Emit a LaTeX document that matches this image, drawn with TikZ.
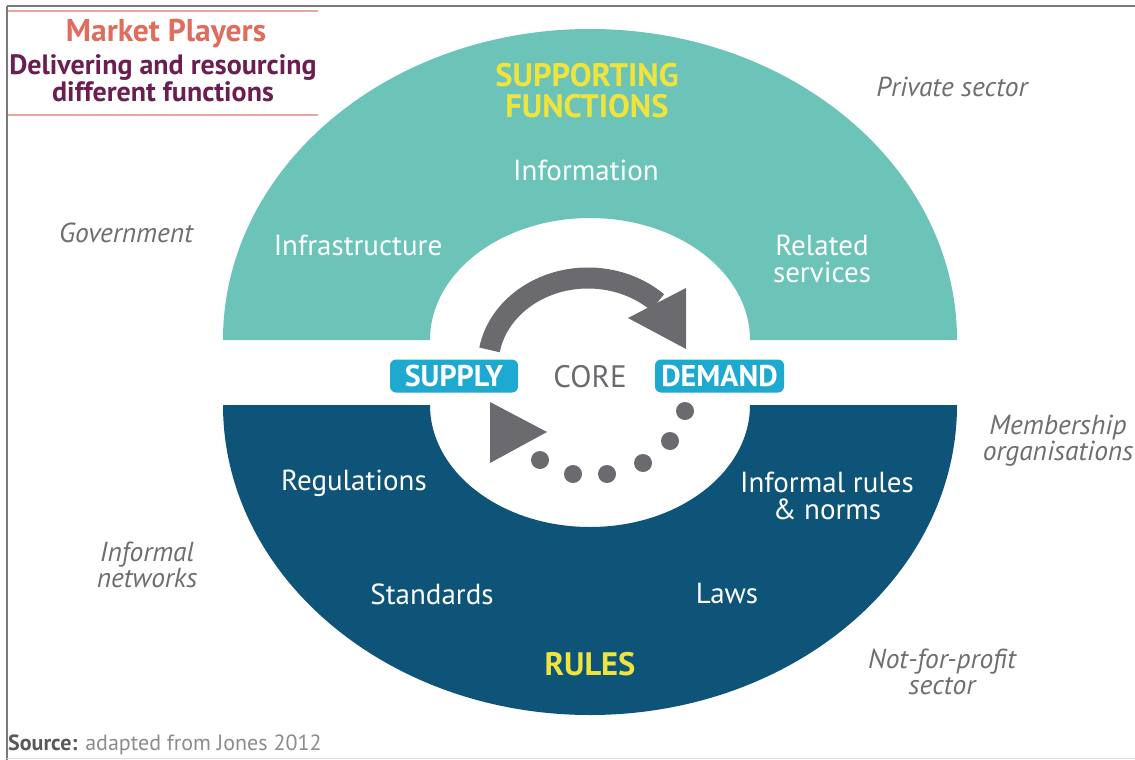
\documentclass[tikz,border=0pt]{standalone}
\usepackage{fontspec}
\setmainfont{PT Sans}
\definecolor{tealband}{HTML}{6CC4B9}
\definecolor{darkband}{HTML}{0E5479}
\definecolor{headyellow}{HTML}{F0E43C}
\definecolor{pillcyan}{HTML}{1DA9D0}
\definecolor{arrowgray}{HTML}{6B6B6F}
\definecolor{italgray}{HTML}{6E6E6E}
\definecolor{titlered}{HTML}{E06C5C}
\definecolor{titlepurple}{HTML}{6B1E4F}
\definecolor{titleline}{HTML}{E4A8A0}
\definecolor{framegray}{HTML}{7A7A7A}
\begin{document}
\begin{tikzpicture}[x=1pt,y=-1pt,
  lbl/.style={text=white, font=\fontsize{29}{27}\selectfont, align=center, inner sep=0},
  ital/.style={text=italgray, font=\fontsize{27.5}{26}\selectfont\itshape, align=center, inner sep=0},
  head/.style={text=headyellow, font=\fontsize{32.5}{31}\selectfont\bfseries, align=center, inner sep=0},
  pill/.style={fill=pillcyan, text=white, rounded corners=6pt, minimum width=128, minimum height=33,
               font=\fontsize{30}{30}\selectfont\bfseries, inner sep=0},
  dot/.style={circle, fill=arrowgray, minimum size=18, inner sep=0}]
\useasboundingbox (0,0) rectangle (1135,760);
\fill[white] (0,0) rectangle (1135,760);
% frame
\draw[framegray, line width=2] (7,6) -- (1135,6);
\draw[framegray, line width=2] (7,6) -- (7,760);
\draw[black!12, line width=1] (7,758) -- (1135,758);
% title
\draw[titleline, line width=1.5] (8,11) -- (318,11);
\draw[titleline, line width=1.5] (8,115) -- (318,115);
\node[text=titlered, font=\fontsize{31.5}{30}\selectfont\bfseries, inner sep=0] (t1) at (166,34) {Market Players};
\node[text=titlepurple, font=\fontsize{28}{25}\selectfont\bfseries, align=center, inner sep=0] (t2) at (163,78) {Delivering and resourcing\\different functions};
% bands
\fill[tealband] (223,340) arc[start angle=180, end angle=360, x radius=367, y radius=311]
   -- (750,340) arc[start angle=360, end angle=180, x radius=160, y radius=122] -- cycle;
\fill[darkband] (223,405) arc[start angle=180, end angle=0, x radius=367, y radius=310]
   -- (750,405) arc[start angle=0, end angle=180, x radius=160, y radius=122] -- cycle;
% top arrow
\coordinate (arcS) at ([shift={(190:100 and 87)}]588,365);
\draw[arrowgray, line width=21] (arcS) arc[start angle=190, end angle=314, x radius=100, y radius=87];
\fill[arrowgray] (628,318) -- (686,288) -- (686,349) -- cycle;
% bottom dotted arrow
\fill[arrowgray] (490,402) -- (490,463) -- (547,432) -- cycle;
\node[dot] (d1) at (685,411) {};
\node[dot] (d2) at (670,441) {};
\node[dot] (d3) at (643,463) {};
\node[dot] (d4) at (607,474) {};
\node[dot] (d5) at (573,474) {};
\node[dot] (d6) at (540,460) {};
% core
\node[pill] (supply) at (454,376) {SUPPLY};
\node[pill, minimum width=129] (demand) at (719.5,376) {DEMAND};
\node[text=arrowgray, font=\fontsize{31}{30}\selectfont, inner sep=0] (core) at (590,377) {CORE};
% headings
\node[head] (sf) at (587,91) {SUPPORTING\\FUNCTIONS};
\node[head] (rules) at (590,664) {RULES};
% inner labels
\node[lbl] (info) at (586,170) {Information};
\node[lbl] (infra) at (358,245) {Infrastructure};
\node[lbl] (rel) at (822,259) {Related\\services};
\node[lbl] (reg) at (354,483) {Regulations};
\node[lbl] (inf) at (827,496) {Informal rules\\\& norms};
\node[lbl] (std) at (432,594) {Standards};
\node[lbl] (laws) at (727,594) {Laws};
% outer labels
\node[ital] (priv) at (952,87) {Private sector};
\node[ital] (gov) at (126,233) {Government};
\node[ital] (memb) at (1058,441) {Membership\\organisations};
\node[ital] (infn) at (147,565) {Informal\\networks};
\node[ital] (nfp) at (942,672) {Not-for-profit\\sector};
% source
\node[anchor=west, text=black!45, font=\fontsize{22}{24}\selectfont, inner sep=0] (src) at (8,745) {\textbf{\color{black!65}Source:} adapted from Jones 2012};
\end{tikzpicture}
\end{document}
